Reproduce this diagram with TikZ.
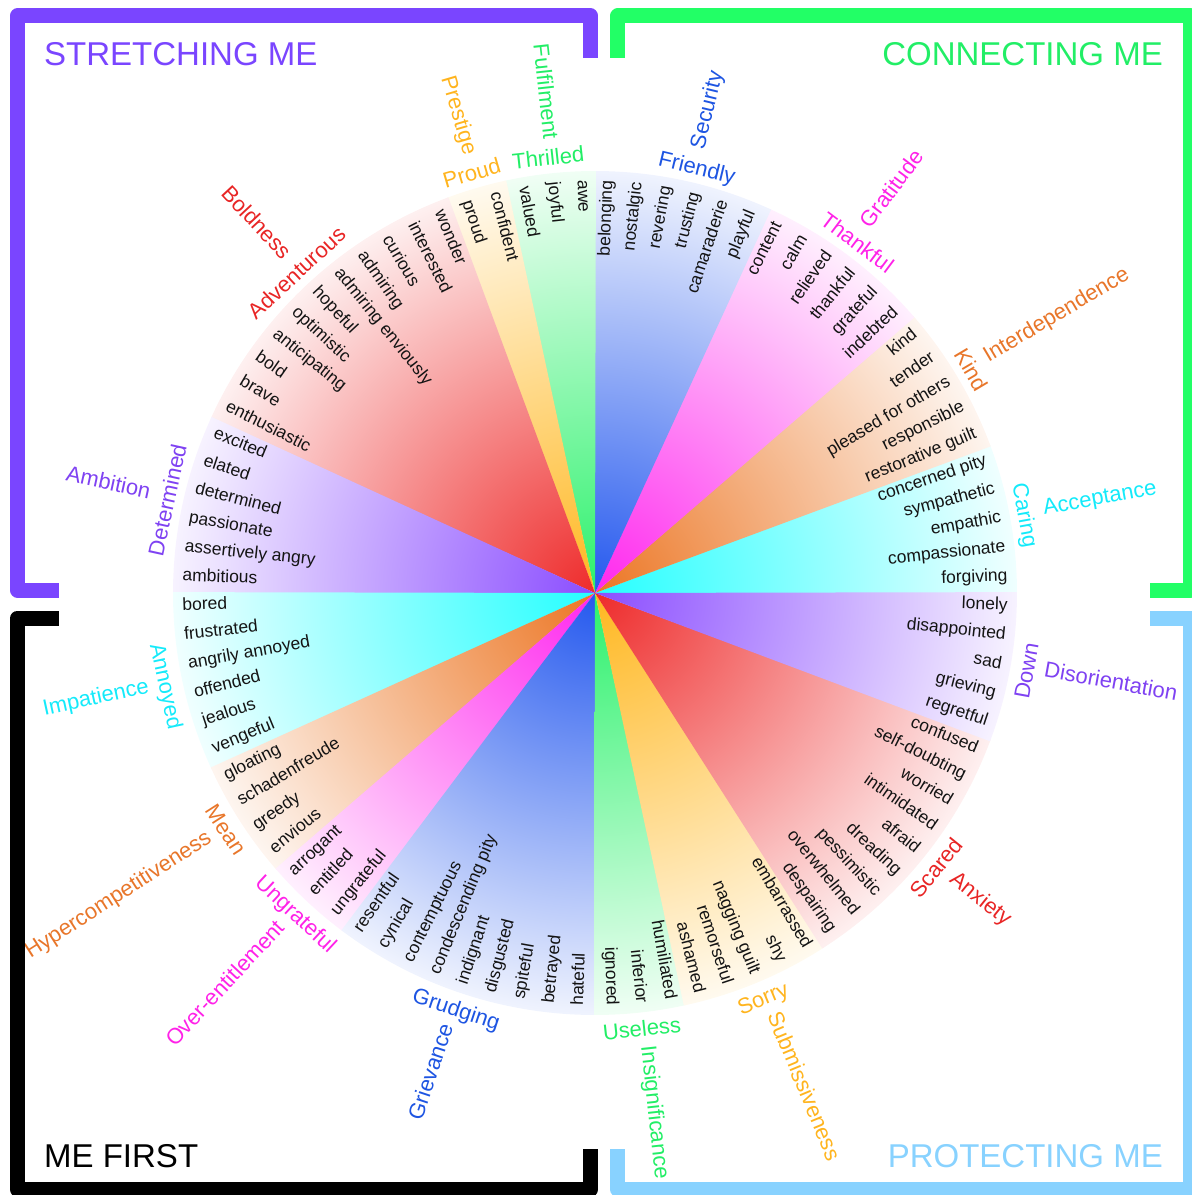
\documentclass[tikz,border=0pt]{standalone}
\usepackage{fontspec}
\setmainfont{Liberation Sans}
% sector fills
\definecolor{fpurple}{HTML}{8B4DFF}
\definecolor{fred}{HTML}{EE2B2B}
\definecolor{fyellow}{HTML}{FFB71F}
\definecolor{fgreen}{HTML}{2BF16B}
\definecolor{fblue}{HTML}{2458EE}
\definecolor{fpink}{HTML}{FF27EE}
\definecolor{forange}{HTML}{EC7624}
\definecolor{fcyan}{HTML}{25FFFF}
% label colours
\definecolor{lpurple}{HTML}{7F42F2}
\definecolor{lred}{HTML}{E82525}
\definecolor{lyellow}{HTML}{FFB41E}
\definecolor{lgreen}{HTML}{22EE66}
\definecolor{lblue}{HTML}{1E55E2}
\definecolor{lpink}{HTML}{FF22E8}
\definecolor{lorange}{HTML}{E8762A}
\definecolor{lcyan}{HTML}{14EAFA}
% brackets
\definecolor{bpurple}{HTML}{7A45FF}
\definecolor{bgreen}{HTML}{22FF66}
\definecolor{bblue}{HTML}{88D2FF}
\begin{document}
\begin{tikzpicture}[x=1pt,y=1pt,
  word/.style={inner sep=0pt, font=\fontsize{17.5}{20}\selectfont, text=black!92},
  lab/.style={inner sep=0pt, font=\fontsize{22}{26}\selectfont},
  title/.style={inner sep=0pt, font=\fontsize{33}{38}\selectfont},
  bracket/.style={line width=15pt, line join=round, line cap=butt}]
\def\dd{4.0909090909}
\def\Rf{422}
\def\Rt{413}
\useasboundingbox (-595,-602) rectangle (597,593);

% ---- sectors
\foreach \s/\e/\col in {0/5/fcyan, 5/10/forange, 10/16/fpink, 16/22/fblue,
  22/25/fgreen, 25/27/fyellow, 27/38/fred, 38/44/fpurple,
  44/50/fcyan, 50/54/forange, 54/57/fpink, 57/66/fblue,
  66/69/fgreen, 69/74/fyellow, 74/83/fred, 83/88/fpurple}{
  \begin{scope}
    \clip (0,0) -- (\s*\dd-0.12:\Rf) arc[start angle=\s*\dd-0.12, end angle=\e*\dd+0.12, radius=\Rf] -- cycle;
    \shade[inner color=\col, outer color=\col!7!white] (0,0) circle[radius=\Rf];
  \end{scope}
}

% ---- words, right half
\foreach \j/\w in {0/forgiving, 1/compassionate, 2/empathic, 3/sympathetic, 4/concerned pity,
  5/restorative guilt, 6/responsible, 7/pleased for others, 8/tender, 9/kind,
  10/indebted, 11/grateful, 12/thankful, 13/relieved, 14/calm, 15/content,
  16/playful, 17/camaraderie, 18/trusting, 19/revering, 20/nostalgic, 21/belonging,
  66/ignored, 67/inferior, 68/humiliated, 69/ashamed, 70/remorseful, 71/nagging guilt,
  72/shy, 73/embarrassed, 74/despairing, 75/overwhelmed, 76/pessimistic, 77/dreading,
  78/afraid, 79/intimidated, 80/worried, 81/self-doubting, 82/confused, 83/regretful,
  84/grieving, 85/sad, 86/disappointed, 87/lonely}{
  \pgfmathsetmacro\a{(\j+0.5)*\dd}
  \node[word, rotate=\a, anchor=mid east] (w\j) at (\a:\Rt) {\w};
}
% ---- words, left half
\foreach \j/\w in {22/awe, 23/joyful, 24/valued, 25/confident, 26/proud, 27/wonder,
  28/interested, 29/curious, 30/admiring, 31/admiring enviously, 32/hopeful,
  33/optimistic, 34/anticipating, 35/bold, 36/brave, 37/enthusiastic, 38/excited,
  39/elated, 40/determined, 41/passionate, 42/assertively angry, 43/ambitious,
  44/bored, 45/frustrated, 46/angrily annoyed, 47/offended, 48/jealous, 49/vengeful,
  50/gloating, 51/schadenfreude, 52/greedy, 53/envious, 54/arrogant, 55/entitled,
  56/ungrateful, 57/resentful, 58/cynical, 59/contemptuous, 60/condescending pity,
  61/indignant, 62/disgusted, 63/spiteful, 64/betrayed, 65/hateful}{
  \pgfmathsetmacro\a{(\j+0.5)*\dd}
  \node[word, rotate=\a-180, anchor=mid west] (w\j) at (\a:\Rt) {\w};
}

% ---- sector labels
\foreach \m/\col/\ilab/\olab [count=\n] in {2.5/cyan/Caring/Acceptance,
  7.5/orange/Kind/Interdependence, 13/pink/Thankful/Gratitude,
  18.7/blue/Friendly/Security, 23.5/green/Thrilled/Fulfilment,
  26/yellow/Proud/Prestige, 32.5/red/Adventurous/Boldness,
  41/purple/Determined/Ambition, 47/cyan/Annoyed/Impatience,
  52/orange/Mean/Hypercompetitiveness, 55.5/pink/Ungrateful/Over-entitlement,
  61.5/blue/Grudging/Grievance, 67.5/green/Useless/Insignificance,
  71.5/yellow/Sorry/Submissiveness, 78.5/red/Scared/Anxiety,
  85.5/purple/Down/Disorientation}{
  \pgfmathsetmacro\a{\m*\dd}
  \pgfmathsetmacro\sg{sin(\a)>0 ? 1 : -1}
  \pgfmathsetmacro\cg{cos(\a)>0 ? 1 : -1}
  \node[lab, text=l\col, rotate=\a-90*\sg, anchor=base] (li\n) at (\a:438-8*\sg) {\ilab};
  \ifdim\cg pt>0pt
    \node[lab, text=l\col, rotate=\a, anchor=mid west] (lo\n) at (\a:456) {\olab};
  \else
    \node[lab, text=l\col, rotate=\a-180, anchor=mid east] (lo\n) at (\a:456) {\olab};
  \fi
}

% ---- brackets
\draw[bracket, bpurple] (-536,3) -- (-577.5,3) -- (-577.5,577) -- (-4.5,577) -- (-4.5,535);
\draw[bracket, bgreen] (23,535) -- (23,577) -- (595.5,577) -- (595.5,3) -- (555,3);
\draw[bracket, black] (-536,-25) -- (-577.5,-25) -- (-577.5,-596.5) -- (-4.5,-596.5) -- (-4.5,-556);
\draw[bracket, bblue] (23,-556) -- (23,-596.5) -- (595.5,-596.5) -- (595.5,-25) -- (555,-25);

% ---- titles
\node[title, text=bpurple, anchor=base west] (t1) at (-551,527) {STRETCHING ME};
\node[title, text=lgreen, anchor=base east] (t2) at (568,527) {CONNECTING ME};
\node[title, text=black, anchor=base west] (t3) at (-551,-574) {ME FIRST};
\node[title, text=bblue, anchor=base east] (t4) at (568,-574) {PROTECTING ME};
\end{tikzpicture}
\end{document}
